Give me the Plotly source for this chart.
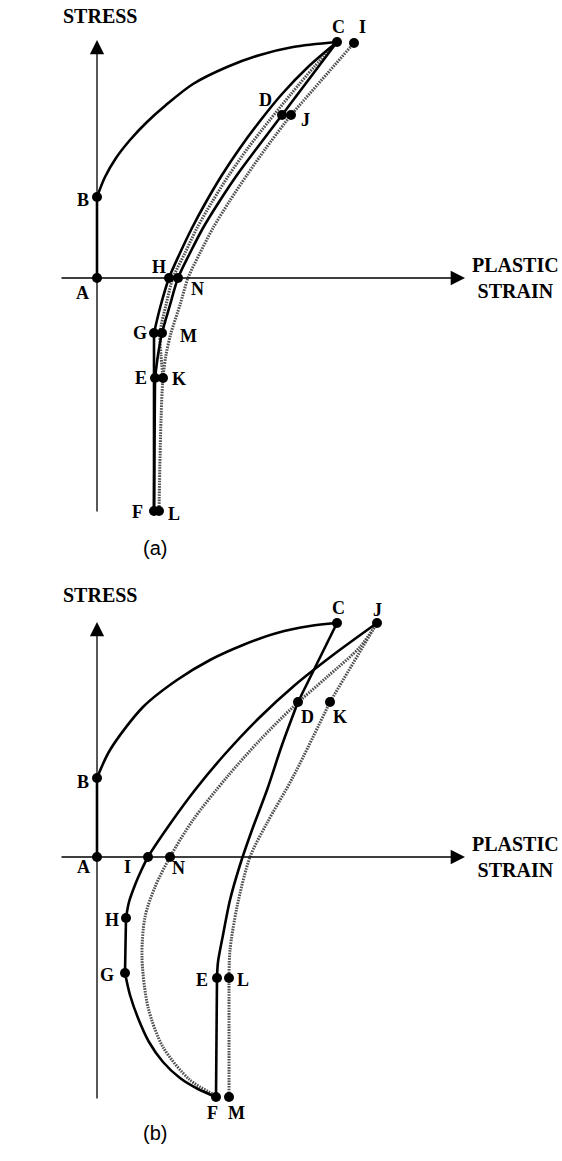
import plotly.graph_objects as go

# ---------------- panel (a): small reversed cycle ----------------
a_AB_x = [0.0, 0.0]
a_AB_y = [0.0, 8.1]
a_BC_x = [0.0, 0.8, 1.9, 3.3, 5.0, 6.9, 9.6, 13.0, 16.3, 19.6, 24.0]
a_BC_y = [8.1, 10.1, 12.0, 13.8, 15.6, 17.3, 19.4, 21.1, 22.3, 23.1, 23.6]
a_CD_x = [24.0, 18.5]
a_CD_y = [23.6, 16.3]
a_DE_x = [18.5, 16.0, 14.0, 12.2, 10.6, 9.3, 8.1, 7.3, 6.5, 6.1, 5.8]
a_DE_y = [16.3, 13.0, 10.3, 7.6, 5.0, 2.5, 0.0, -2.7, -5.5, -7.7, -10.0]
a_EF_x = [5.8, 5.7]
a_EF_y = [-10.0, -23.3]
a_FG_x = [5.7, 5.7]
a_FG_y = [-23.3, -5.5]
a_GHC_x = [5.7, 6.3, 7.2, 8.3, 9.5, 10.9, 12.5, 14.3, 16.3, 18.5, 21.1, 24.0]
a_GHC_y = [-5.5, -3.0, 0.0, 2.5, 5.0, 7.6, 10.3, 13.0, 15.7, 18.4, 21.1, 23.6]
# dotted companion paths
a_dot1_x = [24.0, 21.7, 19.4, 17.2, 15.1, 13.2, 11.5, 10.0, 8.8, 7.6, 6.9, 6.3, 6.4, 6.6]
a_dot1_y = [23.6, 21.1, 18.4, 15.7, 13.0, 10.3, 7.6, 5.0, 2.5, 0.0, -2.7, -5.5, -7.7, -10.0]
a_IJ_x = [25.7, 19.4]
a_IJ_y = [23.5, 16.3]
a_JKL_x = [19.4, 16.9, 15.0, 13.2, 11.6, 10.3, 9.1, 8.3, 7.4, 6.9, 6.6, 6.4, 6.2]
a_JKL_y = [16.3, 13.0, 10.3, 7.6, 5.0, 2.5, 0.0, -2.7, -5.5, -7.7, -10.0, -14.2, -23.3]
# labelled points: name, x, y, label shift (px)
a_pt_names = ["A", "B", "C", "I", "D", "J", "H", "N", "G", "M", "E", "K", "F", "L"]
a_pt_x = [0.0, 0.0, 24.0, 25.7, 18.5, 19.4, 7.2, 8.1, 5.7, 6.5, 5.8, 6.6, 5.7, 6.2]
a_pt_y = [0.0, 8.1, 23.6, 23.5, 16.3, 16.3, 0.0, 0.0, -5.5, -5.5, -10.0, -10.0, -23.3, -23.3]
a_lbl_dx = [-15, -14, 1, 8, -17, 14, -10, 19, -14, 26, -14, 16, -17, 15]
a_lbl_dy = [-15, -3, 15, 16, 15, -5, 11, -11, 0, -3, 0, -1, -1, -3]

# ---------------- panel (b): large reversed cycle ----------------
b_AB_x = [0.0, 0.0]
b_AB_y = [0.0, 7.9]
b_BC_x = [0.0, 1.3, 4.6, 8.0, 11.3, 14.6, 18.0, 21.3, 24.0]
b_BC_y = [7.9, 10.7, 15.0, 17.7, 19.7, 21.2, 22.4, 23.1, 23.4]
b_CD_x = [24.0, 20.1]
b_CD_y = [23.4, 15.5]
b_DE_x = [20.1, 18.5, 17.0, 15.5, 14.3, 13.3, 12.6, 12.1, 12.0]
b_DE_y = [15.5, 11.2, 6.7, 2.7, -0.8, -4.3, -7.8, -10.5, -12.1]
b_EF_x = [12.0, 11.9]
b_EF_y = [-12.1, -24.0]
b_FG_x = [11.9, 10.1, 8.3, 6.6, 5.2, 4.1, 3.3, 2.8]
b_FG_y = [-24.0, -23.2, -22.1, -20.5, -18.5, -16.1, -13.8, -11.6]
b_GH_x = [2.8, 2.9]
b_GH_y = [-11.6, -6.1]
b_HIJ_x = [2.9, 3.2, 3.8, 4.4, 5.1, 7.3, 9.8, 12.8, 16.2, 19.8, 23.6, 28.0]
b_HIJ_y = [-6.1, -4.5, -2.8, -1.4, 0.0, 3.3, 6.7, 10.3, 13.9, 17.2, 20.2, 23.4]
b_JK_x = [28.0, 23.3]
b_JK_y = [23.4, 15.5]
b_KL_x = [23.3, 19.6, 17.0, 15.3, 14.0, 13.3, 13.2]
b_KL_y = [15.5, 8.0, 3.4, 0.0, -5.0, -9.3, -12.1]
b_LM_x = [13.2, 13.2]
b_LM_y = [-12.1, -24.0]
b_FNJ_x = [11.8, 9.3, 6.6, 5.1, 4.5, 4.8, 5.8, 7.3, 9.6, 13.0, 16.3, 19.6, 23.0, 26.3, 28.0]
b_FNJ_y = [-23.8, -22.3, -19.0, -15.0, -10.0, -6.0, -3.0, 0.0, 3.7, 8.0, 11.7, 15.0, 18.0, 21.0, 23.4]
b_pt_names = ["A", "B", "C", "J", "D", "K", "I", "N", "H", "G", "E", "L", "F", "M"]
b_pt_x = [0.0, 0.0, 24.0, 28.0, 20.1, 23.3, 5.1, 7.3, 2.9, 2.8, 12.0, 13.2, 11.9, 13.2]
b_pt_y = [0.0, 7.9, 23.4, 23.4, 15.5, 15.5, 0.0, 0.0, -6.1, -11.6, -12.1, -12.1, -24.0, -24.0]
b_lbl_dx = [-14, -14, 1, 0, 9, 10, -21, 8, -14, -18, -15, 14, -4, 7]
b_lbl_dy = [-10, -4, 15, 13, -15, -15, -10, -11, -2, -2, -2, -2, -16, -16]

# axis extents (strain min/max, stress min/max) for each panel
a_axis = [-3.7, 36.8, -23.5, 23.8]
b_axis = [-3.7, 36.8, -24.3, 23.5]

SOLID = dict(color="black", width=2.6)
DOTTED = dict(color="#505050", width=3.0, dash="1.6px,1.1px")
SERIF = "Liberation Serif, Times New Roman, serif"
LABEL_FONT = dict(family=SERIF, size=18, color="black")
TITLE_FONT = dict(family=SERIF, size=20, color="black")

fig = go.Figure()


def add_path(xs, ys, line, xa, ya):
    shape = "spline" if len(xs) > 2 else "linear"
    fig.add_trace(go.Scatter(x=xs, y=ys, mode="lines", line=dict(shape=shape, smoothing=0.85, **line),
                             xaxis=xa, yaxis=ya, hoverinfo="skip", showlegend=False))


panels = [
    ("x", "y", a_axis,
     [(a_dot1_x, a_dot1_y), (a_IJ_x, a_IJ_y), (a_JKL_x, a_JKL_y)],
     [(a_AB_x, a_AB_y), (a_BC_x, a_BC_y), (a_CD_x, a_CD_y), (a_DE_x, a_DE_y), (a_EF_x, a_EF_y),
      (a_FG_x, a_FG_y), (a_GHC_x, a_GHC_y)],
     a_pt_names, a_pt_x, a_pt_y, a_lbl_dx, a_lbl_dy, "(a)", -27.0),
    ("x2", "y2", b_axis,
     [(b_JK_x, b_JK_y), (b_KL_x, b_KL_y), (b_LM_x, b_LM_y), (b_FNJ_x, b_FNJ_y)],
     [(b_AB_x, b_AB_y), (b_BC_x, b_BC_y), (b_CD_x, b_CD_y), (b_DE_x, b_DE_y), (b_EF_x, b_EF_y),
      (b_FG_x, b_FG_y), (b_GH_x, b_GH_y), (b_HIJ_x, b_HIJ_y)],
     b_pt_names, b_pt_x, b_pt_y, b_lbl_dx, b_lbl_dy, "(b)", -27.6),
]

for xa, ya, ax_ext, dotted, solid, names, px, py, ldx, ldy, tag, tag_y in panels:
    # strain and stress axes with arrowheads
    fig.add_annotation(x=ax_ext[1], y=0, ax=ax_ext[0], ay=0, xref=xa, yref=ya, axref=xa, ayref=ya,
                       text="", showarrow=True, arrowhead=2, arrowsize=2.2, arrowwidth=1.3,
                       arrowcolor="black", standoff=0, startstandoff=0)
    fig.add_annotation(x=0, y=ax_ext[3], ax=0, ay=ax_ext[2], xref=xa, yref=ya, axref=xa, ayref=ya,
                       text="", showarrow=True, arrowhead=2, arrowsize=2.2, arrowwidth=1.3,
                       arrowcolor="black", standoff=0, startstandoff=0)
    for xs, ys in dotted:
        add_path(xs, ys, DOTTED, xa, ya)
    for xs, ys in solid:
        add_path(xs, ys, SOLID, xa, ya)
    fig.add_trace(go.Scatter(x=px, y=py, mode="markers", marker=dict(color="black", size=10),
                             xaxis=xa, yaxis=ya, hoverinfo="skip", showlegend=False))
    for n, x, y, dx, dy in zip(names, px, py, ldx, ldy):
        fig.add_annotation(x=x, y=y, xref=xa, yref=ya, text=f"<b>{n}</b>", showarrow=False,
                           xshift=dx, yshift=dy, font=LABEL_FONT)
    fig.add_annotation(x=0.3, y=26.2, xref=xa, yref=ya, text="<b>STRESS</b>", showarrow=False,
                       font=TITLE_FONT)
    fig.add_annotation(x=41.8, y=0, xref=xa, yref=ya, text="<b>PLASTIC<br>STRAIN</b>", showarrow=False,
                       font=TITLE_FONT)
    fig.add_annotation(x=5.8, y=tag_y, xref=xa, yref=ya, text=tag, showarrow=False,
                       font=dict(family="Liberation Sans, Arial, sans-serif", size=20, color="black"))

hidden = dict(visible=False, showgrid=False, zeroline=False, fixedrange=True)
split_px, H = 580, 1161
fig.update_layout(
    width=562, height=H, autosize=False,
    margin=dict(l=0, r=0, t=0, b=0),
    paper_bgcolor="white", plot_bgcolor="white",
    xaxis=dict(range=[-9.7, 46.5], domain=[0, 1], anchor="y", **hidden),
    yaxis=dict(range=[-30.2, 27.8], domain=[1 - split_px / H, 1], anchor="x", **hidden),
    xaxis2=dict(range=[-9.7, 46.5], domain=[0, 1], anchor="y2", **hidden),
    yaxis2=dict(range=[-30.4, 27.7], domain=[0, 1 - split_px / H], anchor="x2", **hidden),
)

fig.write_html("out.html")
